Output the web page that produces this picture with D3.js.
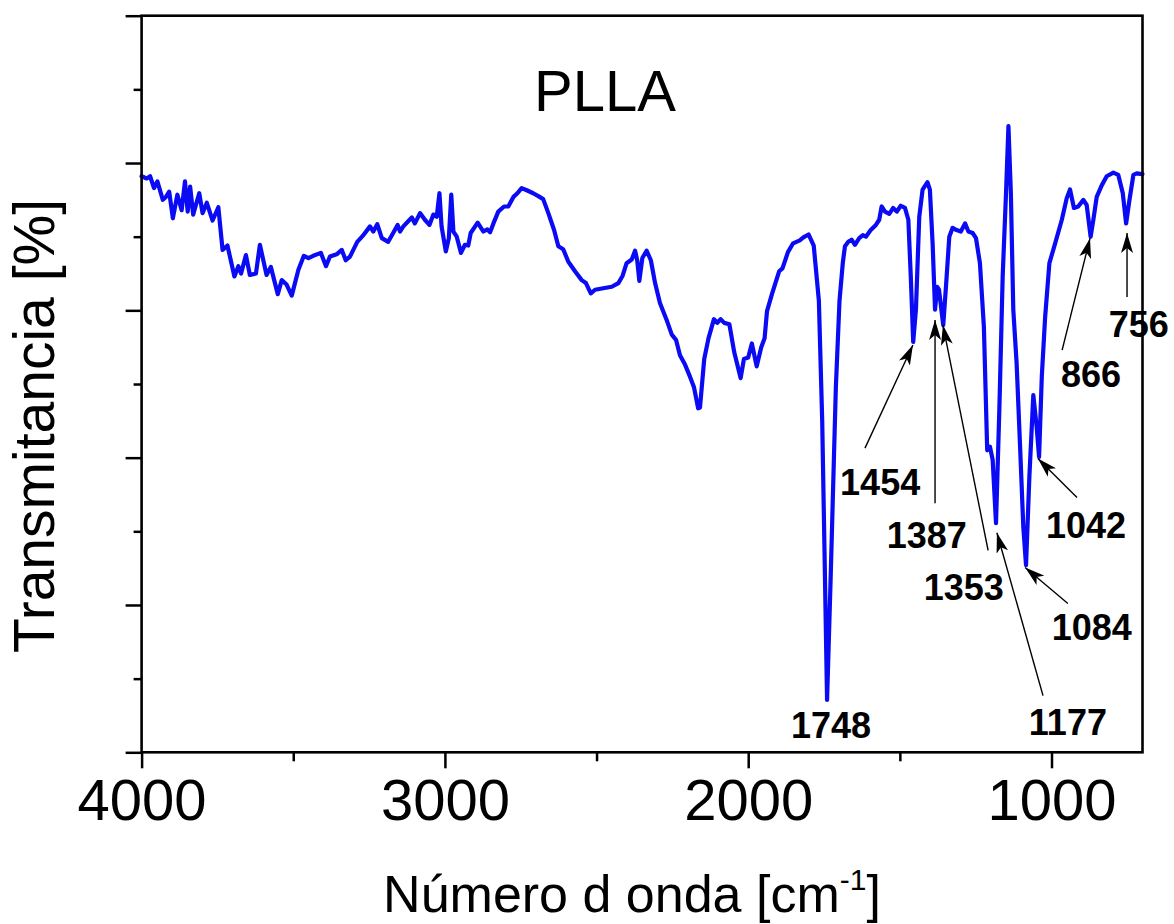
<!DOCTYPE html>
<html>
<head>
<meta charset="utf-8">
<script src="https://cdn.jsdelivr.net/npm/d3@7"></script>
<style>
  html, body { margin: 0; padding: 0; background: #fff; }
  svg { display: block; font-family: "Liberation Sans", Arial, sans-serif; }
</style>
</head>
<body>
<svg id="chart" width="1174" height="924"></svg>
<script>
// ---- data ----
const wavenumber = [4000,3983,3972,3959,3948,3930,3920,3909,3897,3882,3868,3857,3848,3840,3830,3810,3799,3785,3766,3747,
  3733,3717,3694,3681,3672,3656,3643,3623,3610,3588,3574,3551,3538,3522,3505,3483,3465,3450,3434,3409,
  3392,3379,3357,3340,3327,3313,3289,3271,3247,3236,3223,3208,3187,3172,3156,3148,3137,3121,3109,3099,
  3082,3066,3051,3038,3027,3018,3011,2997,2987,2979,2972,2961,2947,2934,2923,2915,2892,2873,2860,2851,
  2840,2824,2805,2791,2774,2761,2747,2730,2709,2692,2676,2659,2640,2626,2610,2593,2571,2549,2535,2519,
  2505,2478,2450,2428,2414,2401,2384,2373,2366,2359,2349,2335,2321,2307,2291,2269,2252,2238,2225,2208,
  2192,2179,2165,2159,2145,2131,2113,2102,2091,2079,2062,2046,2025,2014,2000,1988,1972,1957,1946,1938,
  1921,1898,1887,1869,1852,1830,1818,1801,1784,1767,1756,1748,1740,1728,1711,1699,1688,1681,1670,1659,
  1648,1634,1622,1612,1596,1579,1568,1560,1549,1535,1522,1510,1497,1483,1472,1464,1456,1447,1436,1425,
  1409,1401,1392,1384,1377,1371,1357,1348,1337,1326,1313,1299,1285,1274,1260,1249,1236,1223,1212,1203,
  1194,1183,1172,1161,1150,1142,1134,1126,1115,1104,1093,1084,1073,1060,1049,1041,1032,1021,1007,988,
  966,950,939,926,912,895,884,871,862,851,834,818,796,780,765,754,743,730,719,702,700];
const transmittance = [78.2,77.9,78.2,76.6,77.5,75.0,75.4,76.1,72.5,75.7,73.6,77.5,73.4,76.8,73.0,75.9,73.2,74.6,72.2,74.0,
  68.2,68.8,64.6,66.0,65.0,67.5,64.8,65.0,68.9,64.8,65.9,62.2,64.1,63.5,62.0,65.5,67.4,67.1,67.4,67.8,
  66.0,67.3,67.6,68.2,66.8,67.3,69.3,70.1,71.4,70.7,71.7,69.8,69.3,70.4,71.6,70.7,71.4,72.1,72.6,71.8,
  73.2,72.3,71.6,73.0,72.7,75.9,71.4,68.0,69.8,75.7,70.7,70.0,67.8,68.9,68.8,70.5,71.9,70.7,71.0,70.6,
  71.8,73.4,74.1,74.1,75.4,75.9,76.6,76.3,75.9,75.5,75.1,73.2,70.9,68.7,68.3,66.6,65.3,64.1,63.7,62.3,
  62.8,63.0,63.2,63.7,64.7,66.4,66.9,68.1,66.8,64.0,67.1,68.1,66.8,63.7,61.0,58.7,56.7,56.0,53.9,52.6,
  51.0,49.6,46.7,46.8,53.4,56.2,58.8,58.3,58.8,58.3,58.1,54.3,50.8,53.4,53.6,55.5,52.4,55.0,56.2,59.9,
  62.3,65.3,65.7,67.9,69.1,69.5,69.9,70.3,68.8,61.3,45.0,26.3,7.1,23.9,49.6,61.3,66.5,68.7,69.3,69.6,
  68.9,69.8,70.2,70.0,70.9,71.6,72.3,74.1,73.4,73.1,73.9,73.4,74.2,73.9,72.3,64.6,55.7,60.1,72.7,76.4,
  77.4,76.4,69.1,60.1,63.2,62.8,58.0,63.2,70.0,71.2,70.9,70.7,71.8,70.7,70.5,69.8,66.4,57.8,41.0,41.5,
  39.7,31.1,46.5,64.6,75.9,85.0,75.9,60.1,52.8,41.9,30.6,25.4,37.4,48.5,44.2,40.1,51.0,59.1,66.4,69.1,
  72.3,75.2,76.4,73.9,74.1,75.0,74.3,70.0,72.3,75.4,77.0,78.2,78.7,78.4,75.9,71.8,75.0,78.4,78.6,78.5,78.5];

const xMajorTicks = [4000, 3000, 2000, 1000];
const xMinorTicks = [3500, 2500, 1500];
const yMajorTicks = [0, 20, 40, 60, 80, 100];
const yMinorTicks = [10, 30, 50, 70, 90];

// peak annotations: label, arrow tail (w,T), arrow tip (w,T), label anchor (w,T)
const peakLabels = ["1454", "1387", "1353", "1177", "1084", "1042", "866", "756", "1748"];
const tailW = [1615, 1384, 1209, 1028, 946, 916, 965, 751, null];
const tailT = [41.3, 33.8, 27.4, 7.7, 20.2, 34.6, 54.6, 61.8, null];
const tipW  = [1457, 1384, 1358, 1180, 1087, 1045, 873, 751, null];
const tipT  = [55.3, 58.7, 58.0, 29.8, 25.1, 39.9, 69.8, 70.5, null];
const labW  = [1565, 1411, 1289, 946, 867, 886, 870, 712, 1727];
const labT  = [34.9, 27.7, 20.7, 2.3, 15.2, 29.1, 49.6, 56.4, 2.0];

const titleText = "PLLA";
const xTitle = "Número d onda [cm";
const yTitle = "Transmitancia [%]";

// ---- drawing ----
const svg = d3.select("#chart");
const pL = 141.6, pR = 1142.5, pT = 15.7, pB = 752.3;
const x = d3.scaleLinear().domain([4000, 700]).range([pL, pR]);
const y = d3.scaleLinear().domain([0, 100]).range([pB, pT]);
const FONT = '"Liberation Sans", Arial, sans-serif';

// spectrum
const pts = wavenumber.map((w, i) => [w, transmittance[i]]);
svg.append("path")
  .datum(pts)
  .attr("fill", "none")
  .attr("stroke", "#0a0af5")
  .attr("stroke-width", 4.2)
  .attr("stroke-linejoin", "round")
  .attr("stroke-linecap", "round")
  .attr("d", d3.line().x(d => x(d[0])).y(d => y(d[1])));

// axes
function styleAxis(g) {
  g.select(".domain").remove();
  g.selectAll(".tick line").attr("stroke", "#000").attr("stroke-width", 2.5);
}
const gxMaj = svg.append("g").attr("transform", `translate(0,${pB})`)
  .call(d3.axisBottom(x).tickValues(xMajorTicks).tickSize(16).tickFormat(d3.format("d")));
styleAxis(gxMaj);
gxMaj.selectAll("text").attr("y", 68).attr("dy", 0)
  .attr("font-size", 58).attr("font-family", FONT).attr("fill", "#000");
const gxMin = svg.append("g").attr("transform", `translate(0,${pB})`)
  .call(d3.axisBottom(x).tickValues(xMinorTicks).tickSize(9).tickFormat(""));
styleAxis(gxMin);
const gyMaj = svg.append("g").attr("transform", `translate(${pL},0)`)
  .call(d3.axisLeft(y).tickValues(yMajorTicks).tickSize(16).tickFormat(""));
styleAxis(gyMaj);
const gyMin = svg.append("g").attr("transform", `translate(${pL},0)`)
  .call(d3.axisLeft(y).tickValues(yMinorTicks).tickSize(8).tickFormat(""));
styleAxis(gyMin);

// frame
svg.append("rect")
  .attr("x", pL).attr("y", pT)
  .attr("width", pR - pL).attr("height", pB - pT)
  .attr("fill", "none").attr("stroke", "#000").attr("stroke-width", 2.6);

// arrow marker
svg.append("defs").append("marker")
  .attr("id", "ah").attr("viewBox", "0 0 20 12")
  .attr("refX", 20).attr("refY", 6)
  .attr("markerWidth", 20).attr("markerHeight", 12)
  .attr("markerUnits", "userSpaceOnUse")
  .attr("orient", "auto")
  .append("path").attr("d", "M0,0 L20,6 L0,12 L5,6 Z").attr("fill", "#000");

peakLabels.forEach((lab, i) => {
  if (tailW[i] !== null) {
    svg.append("line")
      .attr("x1", x(tailW[i])).attr("y1", y(tailT[i]))
      .attr("x2", x(tipW[i])).attr("y2", y(tipT[i]))
      .attr("stroke", "#000").attr("stroke-width", 1.4)
      .attr("marker-end", "url(#ah)");
  }
  svg.append("text")
    .attr("x", x(labW[i])).attr("y", y(labT[i]))
    .attr("text-anchor", "middle")
    .attr("font-family", FONT).attr("font-weight", "bold")
    .attr("font-size", 36).attr("fill", "#000")
    .text(lab);
});

// title
svg.append("text")
  .attr("x", 605).attr("y", 111)
  .attr("text-anchor", "middle")
  .attr("font-family", FONT).attr("font-size", 58).attr("fill", "#000")
  .text(titleText);

// x title
const xt = svg.append("text")
  .attr("x", 632).attr("y", 912)
  .attr("text-anchor", "middle")
  .attr("font-family", FONT).attr("font-size", 52).attr("fill", "#000");
xt.append("tspan").text(xTitle);
xt.append("tspan").attr("font-size", 30).attr("dy", -22).text("-1");
xt.append("tspan").attr("dy", 22).text("]");

// y title
svg.append("text")
  .attr("transform", `translate(54,${(pT + pB) / 2 + 42}) rotate(-90)`)
  .attr("text-anchor", "middle")
  .attr("font-family", FONT).attr("font-size", 57).attr("fill", "#000")
  .text(yTitle);
</script>
</body>
</html>
